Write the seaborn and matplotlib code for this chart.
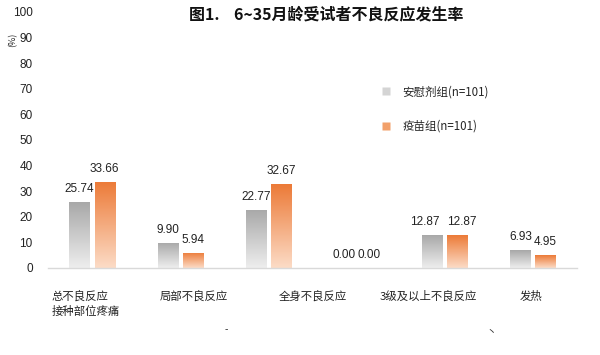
import numpy as np
import pandas as pd
import matplotlib
matplotlib.use("Agg")
import matplotlib.pyplot as plt
import seaborn as sns
from matplotlib.colors import LinearSegmentedColormap
from matplotlib.lines import Line2D

categories = ["总不良反应", "接种部位疼痛", "局部不良反应", "全身不良反应", "3级及以上不良反应", "发热"]
placebo = [25.74, 9.90, 22.77, 0.00, 12.87, 6.93]
vaccine = [33.66, 5.94, 32.67, 0.00, 12.87, 4.95]
groups = ["安慰剂组(n=101)", "疫苗组(n=101)"]
tick_labels = ["总不良反应\n接种部位疼痛", "局部不良反应", "全身不良反应", "3级及以上不良反应", "发热"]
yticks = [0, 10, 20, 30, 40, 50, 60, 70, 80, 90, 100]
title = "图1.    6~35月龄受试者不良反应发生率"

df = pd.DataFrame({
    "cat": categories * 2,
    "val": placebo + vaccine,
    "grp": [groups[0]] * len(categories) + [groups[1]] * len(categories),
})

sns.set_theme(style="white")
plt.rcParams["font.family"] = ["Noto Sans CJK SC", "DejaVu Sans"]

fig = plt.figure(figsize=(6.0, 3.55), dpi=100)
ax = fig.add_axes([48 / 600, 1 - 268 / 355, 529 / 600, 256 / 355])

palette = {groups[0]: "#d9d9d9", groups[1]: "#f4a46e"}
sns.barplot(data=df, x="cat", y="val", hue="grp", order=categories, hue_order=groups,
            palette=palette, width=0.57, gap=0.2, ax=ax, legend=False, saturation=1)

# gradient fills clipped to each bar
cmaps = [LinearSegmentedColormap.from_list("g", ["#eeeeee", "#a8a8a8"]),
         LinearSegmentedColormap.from_list("o", ["#fcdcc7", "#ec7a37"])]
grad = np.linspace(0, 1, 256).reshape(-1, 1)
for i, cont in enumerate(ax.containers):
    for p in cont.patches:
        x0, y0 = p.get_x(), p.get_y()
        w, h = p.get_width(), p.get_height()
        if h <= 0:
            continue
        p.set_facecolor("none")
        p.set_edgecolor("none")
        im = ax.imshow(grad, cmap=cmaps[i], origin="lower", aspect="auto",
                       extent=[x0, x0 + w, y0, y0 + h], zorder=2)
        im.set_clip_path(p)

label_sets = []
for cont in ax.containers:
    label_sets.append(ax.bar_label(cont, fmt="%.2f", padding=5, fontsize=8.5,
                                   color="#222222",
                                   family=["Liberation Sans", "DejaVu Sans"]))
# nudge pairs of equal, non-zero labels apart so they do not collide
for k, (a, b) in enumerate(zip(placebo, vaccine)):
    if a == b and a > 0:
        label_sets[0][k].xyann = (-5, 5)
        label_sets[1][k].xyann = (3, 5)

ax.set_xlim(-0.5, len(categories) - 0.5)
ax.set_ylim(0, 100)
ax.set_yticks(yticks)
ax.tick_params(axis="y", length=0, pad=11, labelsize=8.5, labelcolor="#222222")
ax.set_xticks([-0.07, 1.16, 2.5, 3.81, 4.98])
ax.set_xticklabels(tick_labels, fontsize=8.2, color="#222222", multialignment="left",
                   va="top", linespacing=1.45)
ax.tick_params(axis="x", length=0, pad=16)
for t in ax.get_yticklabels():
    t.set_family(["Liberation Sans", "DejaVu Sans"])
ax.set_xlabel("")
ax.set_ylabel("")
for s in ["left", "right", "top"]:
    ax.spines[s].set_visible(False)
ax.spines["bottom"].set_color("#d9d9d9")
ax.spines["bottom"].set_linewidth(1.0)

fig.text(326 / 600, 1 - 14 / 355, title, ha="center", va="center", fontsize=11.5,
         fontweight="bold", color="#111111")
fig.text(13 / 600, 1 - 40 / 355, "(%)", rotation=90, ha="center", va="center",
         fontsize=6.5, color="#222222")

handles = [Line2D([], [], marker="s", ls="", markersize=6, markerfacecolor="#d4d4d4",
                  markeredgecolor="none"),
           Line2D([], [], marker="s", ls="", markersize=6, markerfacecolor="#f2a06a",
                  markeredgecolor="none")]
fig.legend(handles, groups, loc="upper left", bbox_to_anchor=(370 / 600, 1 - 75 / 355),
           frameon=False, fontsize=8.3, labelspacing=1.85, handletextpad=0.9,
           handlelength=1.0)

fig.text(226 / 600, 1 - 330 / 355, "-", fontsize=7, ha="center", va="center", color="#333333")
fig.text(491 / 600, 1 - 332 / 355, "丶", fontsize=7, ha="center", va="center", color="#333333")

fig.savefig("out.png", dpi=100, facecolor="white")
